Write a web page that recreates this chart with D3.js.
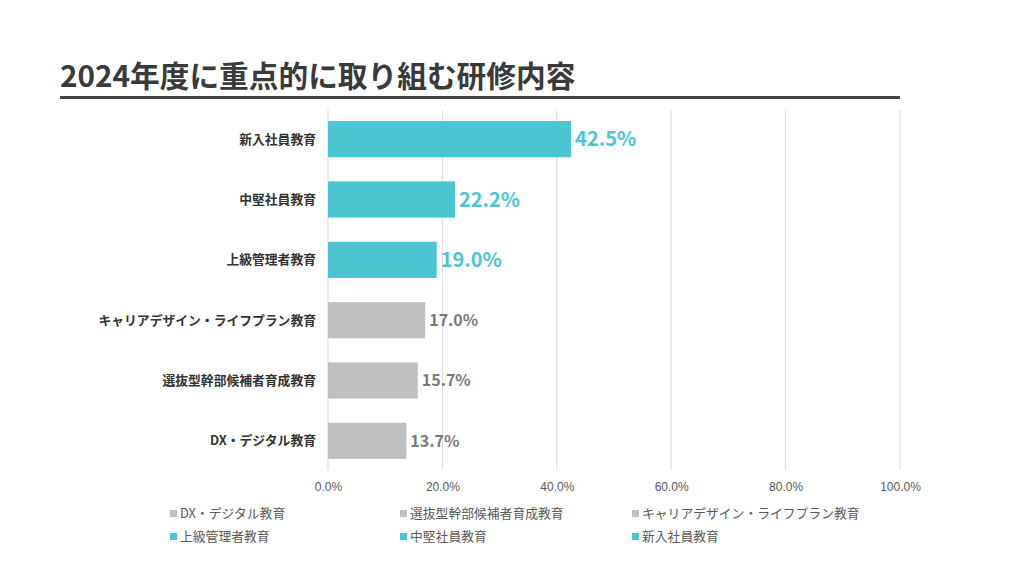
<!DOCTYPE html>
<html><head><meta charset="utf-8">
<script src="https://cdn.jsdelivr.net/npm/d3@7"></script>
<style>body{margin:0;background:#fff;}svg{display:block;font-family:"Noto Sans CJK JP","Noto Sans",sans-serif;}</style>
</head><body>
<svg id="c" width="1024" height="576"></svg>
<script>
const title = "2024年度に重点的に取り組む研修内容";
const categories = ["新入社員教育","中堅社員教育","上級管理者教育","キャリアデザイン・ライフプラン教育","選抜型幹部候補者育成教育","DX・デジタル教育"];
const values = [42.5, 22.2, 19.0, 17.0, 15.7, 13.7];
const highlighted = [true, true, true, false, false, false];
const ticks = [0, 20, 40, 60, 80, 100];
const legendOrder = ["DX・デジタル教育","選抜型幹部候補者育成教育","キャリアデザイン・ライフプラン教育","上級管理者教育","中堅社員教育","新入社員教育"];

const teal = "#4bc5d2", gray = "#c0c0c0";
const svg = d3.select("#c");

svg.append("text").attr("x", 60).attr("y", 87).attr("font-size", 29.7).attr("font-weight", 700)
  .attr("fill", "#3a3a3a").text(title);
svg.append("rect").attr("x", 60).attr("y", 96).attr("width", 840).attr("height", 3).attr("fill", "#444");

const x = d3.scaleLinear().domain([0, 100]).range([328, 900]);
const y = d3.scaleBand().domain(categories).range([109, 471]).paddingInner(0.4).paddingOuter(0.2);

// grid
svg.append("g").selectAll("line").data(ticks).join("line")
  .attr("x1", d => x(d)).attr("x2", d => x(d)).attr("y1", 110).attr("y2", 470)
  .attr("stroke", "#d9d9d9").attr("stroke-width", 1);

// axis labels
const ax = svg.append("g").attr("transform", "translate(0,470)")
  .call(d3.axisBottom(x).tickValues(ticks).tickFormat(d => d.toFixed(1) + "%").tickSize(0).tickPadding(12));
ax.select(".domain").remove();
ax.selectAll("text").attr("font-size", 12).attr("fill", "#595959").attr("font-family", "inherit");

// bars
const idx = categories.map((c, i) => i);
svg.append("g").selectAll("rect").data(idx).join("rect")
  .attr("x", x(0)).attr("y", i => y(categories[i]))
  .attr("width", i => x(values[i]) - x(0)).attr("height", y.bandwidth())
  .attr("fill", i => highlighted[i] ? teal : gray);

// category labels
svg.append("g").selectAll("text").data(idx).join("text")
  .attr("x", 316).attr("y", i => y(categories[i]) + y.bandwidth() / 2)
  .attr("dy", "0.35em").attr("text-anchor", "end").attr("font-size", 12.8).attr("font-weight", 700)
  .attr("fill", "#333").text(i => categories[i]);

// value labels
svg.append("g").selectAll("text").data(idx).join("text")
  .attr("x", i => x(values[i]) + 4).attr("y", i => y(categories[i]) + y.bandwidth() / 2)
  .attr("dy", "0.36em")
  .attr("font-size", i => highlighted[i] ? 20 : 16).attr("font-weight", 700)
  .attr("fill", i => highlighted[i] ? teal : "#7a7a7a")
  .text(i => values[i].toFixed(1) + "%");

// legend
const legX = [170, 400, 632], legY = [514, 537];
const lg = svg.append("g").selectAll("g").data(legendOrder).join("g")
  .attr("transform", (d, i) => `translate(${legX[i % 3]},${legY[Math.floor(i / 3)]})`);
lg.append("rect").attr("x", 0).attr("y", -4).attr("width", 7).attr("height", 7)
  .attr("fill", d => highlighted[categories.indexOf(d)] ? teal : gray);
lg.append("text").attr("x", 10).attr("y", 0).attr("dy", "0.35em").attr("font-size", 12.8)
  .attr("fill", "#595959").text(d => d);
</script>
</body></html>
